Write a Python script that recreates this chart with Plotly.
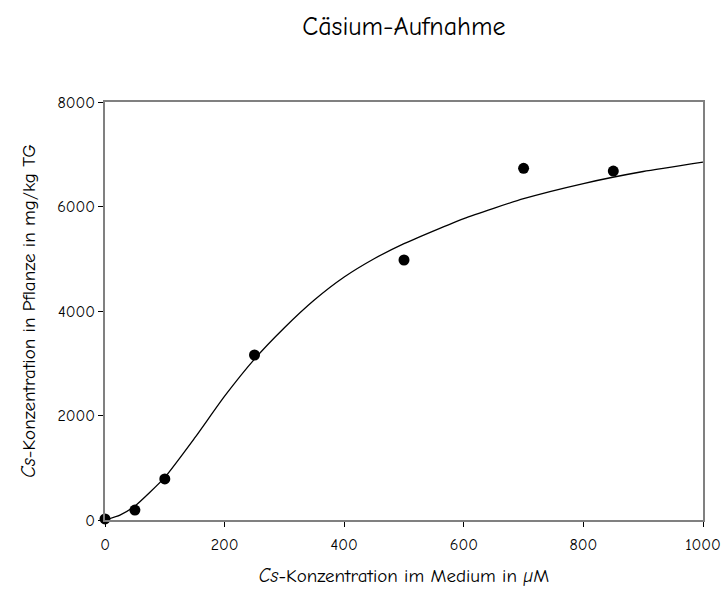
import plotly.graph_objects as go

# Measured data points
conc_medium = [0, 50, 100, 250, 500, 700, 850]
cs_plant = [20, 190, 785, 3158, 4976, 6731, 6679]

# Fitted curve
curve_x = [0, 25, 50, 100, 150, 200, 250, 300, 350, 400, 450, 500, 600, 700, 800, 900, 1000]
curve_y = [0, 95, 268, 817, 1570, 2370, 3080, 3680, 4210, 4650, 5000, 5290, 5770, 6150, 6440, 6670, 6850]

x_ticks = [0, 200, 400, 600, 800, 1000]
y_ticks = [0, 2000, 4000, 6000, 8000]

FONT = "Comic Sans MS, Comic Neue, Open Sans, sans-serif"

fig = go.Figure()
fig.add_trace(go.Scatter(
    x=curve_x, y=curve_y, mode="lines",
    line=dict(color="black", width=1.3, shape="spline", smoothing=0.5),
    hoverinfo="skip", showlegend=False,
))
fig.add_trace(go.Scatter(
    x=conc_medium, y=cs_plant, mode="markers",
    marker=dict(color="black", size=11),
    cliponaxis=False, showlegend=False,
))

fig.update_layout(
    width=725, height=597,
    margin=dict(l=105, r=22, t=102, b=77, autoexpand=False),
    paper_bgcolor="white", plot_bgcolor="white",
    font=dict(family=FONT, size=16, color="black"),
    title=dict(text="Cäsium-Aufnahme", x=0.5571, xanchor="center",
               y=0.957, yanchor="middle", font=dict(size=26, family=FONT, color="black")),
    xaxis=dict(
        range=[0, 1000], tickvals=x_ticks, ticks="outside", ticklen=5,
        tickcolor="black", showline=True, linecolor="#808080", linewidth=1.5,
        mirror=True, showgrid=False, zeroline=False, automargin=False,
        ticklabelstandoff=4,
        tickfont=dict(size=16, color="black"),
        title=dict(text="<i>Cs</i>-Konzentration im Medium in <i>µ</i>M",
                   standoff=16, font=dict(size=19, color="black")),
    ),
    yaxis=dict(
        range=[0, 8000], tickvals=y_ticks, ticks="outside", ticklen=5,
        tickcolor="black", showline=True, linecolor="#808080", linewidth=1.5,
        mirror=True, showgrid=False, zeroline=False, automargin=False,
        tickfont=dict(size=16, color="black"),
        title=dict(text="<i>Cs</i>-Konzentration in Pflanze in mg/kg TG",
                   standoff=16, font=dict(size=19, color="black")),
    ),
)

fig.write_html("out.html")
